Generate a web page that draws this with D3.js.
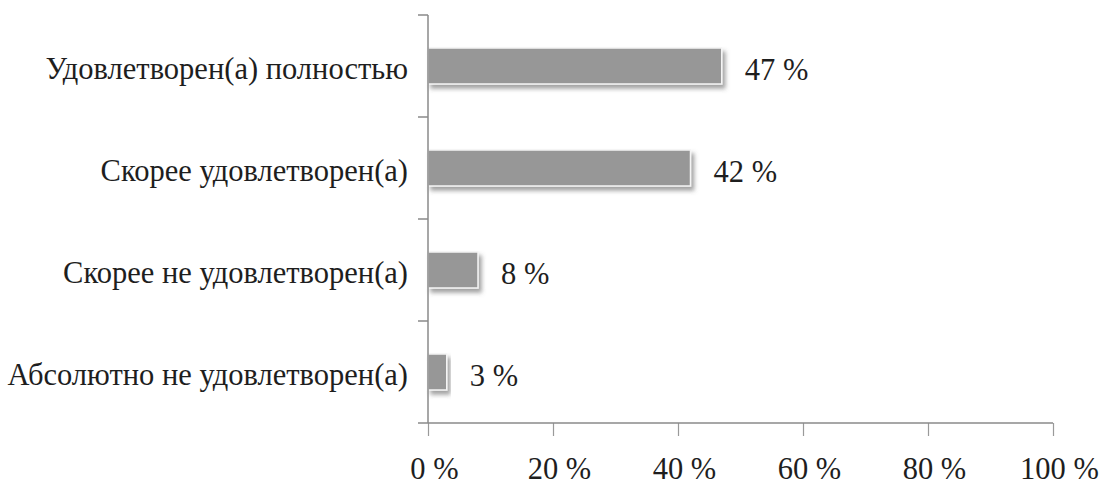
<!DOCTYPE html>
<html>
<head>
<meta charset="utf-8">
<script src="https://cdn.jsdelivr.net/npm/d3@7"></script>
<style>
  html, body { margin: 0; padding: 0; background: #fff; }
</style>
</head>
<body>
<svg id="chart" width="1101" height="486"></svg>
<script>
// Survey: satisfaction levels, share of respondents (%)
const categories = [
  "Удовлетворен(а) полностью",
  "Скорее удовлетворен(а)",
  "Скорее не удовлетворен(а)",
  "Абсолютно не удовлетворен(а)"
];
const values = [47, 42, 8, 3];
const xTicks = [0, 20, 40, 60, 80, 100];
const tickLabels = ["0 %", "20 %", "40 %", "60 %", "80 %", "100 %"];

const FONT = '"Liberation Serif", "Times New Roman", serif';
const FS = 30.5;
const INK = "#1e1e1e";

const svg = d3.select("#chart");
const plotLeft = 428, plotRight = 1053, plotTop = 15, plotBottom = 423;

const x = d3.scaleLinear().domain([0, 100]).range([plotLeft, plotRight]);
const pad = 0.647;
const y = d3.scaleBand().domain(categories).range([plotTop, plotBottom])
  .paddingInner(pad).paddingOuter(pad / 2);

// soft drop shadow under the bars
const defs = svg.append("defs");
const f = defs.append("filter").attr("id", "shadow")
  .attr("x", "-10%").attr("y", "-30%").attr("width", "130%").attr("height", "180%");
f.append("feDropShadow").attr("dx", 3).attr("dy", 4).attr("stdDeviation", 2)
  .attr("flood-color", "#555").attr("flood-opacity", 0.55);

// bars
svg.append("g").selectAll("rect").data(values).join("rect")
  .attr("x", x(0))
  .attr("y", (d, i) => y(categories[i]))
  .attr("width", d => x(d) - x(0))
  .attr("height", y.bandwidth())
  .attr("fill", "#979797")
  .attr("stroke", "#f4f4f4")
  .attr("stroke-width", 1.5)
  .attr("filter", "url(#shadow)");

// value labels
svg.append("g").selectAll("text").data(values).join("text")
  .attr("x", d => x(d) + 23)
  .attr("y", (d, i) => y(categories[i]) + y.bandwidth() / 2 + 14)
  .style("font-family", FONT).style("font-size", FS + "px").style("fill", INK)
  .text(d => d + " %");

// x axis
const xAxis = d3.axisBottom(x).tickValues(xTicks).tickSize(13).tickFormat((d, i) => tickLabels[i]);
const gx = svg.append("g").attr("transform", `translate(0,${plotBottom})`).call(xAxis);
gx.select(".domain").remove();
gx.append("line").attr("x1", plotLeft - 10).attr("x2", plotRight).attr("y1", 0).attr("y2", 0)
  .attr("stroke", "#8a8a8a").attr("stroke-width", 1.5);
gx.selectAll(".tick line").attr("stroke", "#9a9a9a").attr("stroke-width", 1.2);
gx.selectAll(".tick text")
  .style("font-family", FONT).style("font-size", FS + "px").style("fill", INK)
  .attr("dx", 6)
  .attr("y", 56)
  .attr("dy", 0);

// y axis: vertical line with ticks at band boundaries
const gy = svg.append("g");
gy.append("line").attr("x1", plotLeft).attr("x2", plotLeft).attr("y1", plotTop).attr("y2", plotBottom)
  .attr("stroke", "#8a8a8a").attr("stroke-width", 1.5);
const bounds = categories.map(c => y(c) - y.step() * pad / 2);
gy.selectAll(".yt").data(bounds).join("line").attr("class", "yt")
  .attr("x1", plotLeft - 10).attr("x2", plotLeft).attr("y1", d => d).attr("y2", d => d)
  .attr("stroke", "#8a8a8a").attr("stroke-width", 1.5);

// category labels
gy.selectAll(".cat").data(categories).join("text").attr("class", "cat")
  .attr("x", plotLeft - 20)
  .attr("y", d => y(d) + y.bandwidth() / 2 + 13)
  .attr("text-anchor", "end")
  .style("font-family", FONT).style("font-size", FS + "px").style("fill", INK)
  .text(d => d);
</script>
</body>
</html>
